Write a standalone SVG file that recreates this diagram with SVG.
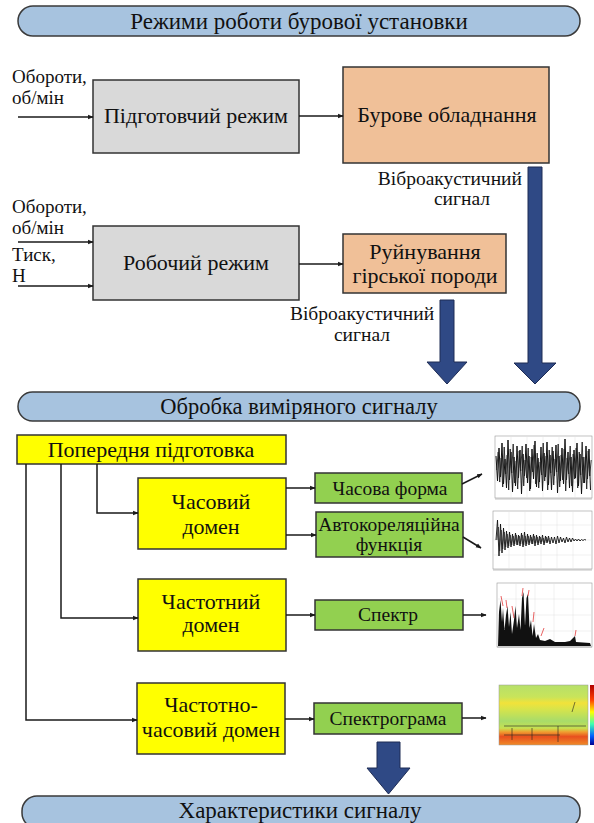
<svg xmlns="http://www.w3.org/2000/svg" width="594" height="823" viewBox="0 0 594 823" font-family="'Liberation Serif', 'DejaVu Serif', serif">
<defs>
<style>
text{font-family:"Liberation Serif","DejaVu Serif",serif;}
.t{fill:#111;}
.pill{fill:#a7c3df;stroke:#3a3a3a;stroke-width:1.5;}
.grey{fill:#d9d9d9;stroke:#333;stroke-width:1.5;}
.peach{fill:#f0c098;stroke:#333;stroke-width:1.5;}
.yel{fill:#ffff00;stroke:#333;stroke-width:1.5;}
.grn{fill:#92d050;stroke:#333;stroke-width:1.5;}
.ln{fill:none;stroke:#1a1a1a;stroke-width:1.5;marker-end:url(#ah);}
.big{fill:#2f4985;stroke:#1e2c55;stroke-width:1;}
.grid{stroke:#e2e2e2;stroke-width:0.5;fill:none;}
.ax{fill:#fff;stroke:#999;stroke-width:0.6;}
</style>
<marker id="ah" viewBox="0 0 10 10" refX="9" refY="5" markerWidth="5.5" markerHeight="5.5" orient="auto" markerUnits="userSpaceOnUse">
<path d="M0,1 L10,5 L0,9 z" fill="#1a1a1a"/>
</marker>
<linearGradient id="sg" x1="0" y1="0" x2="0" y2="1">
<stop offset="0" stop-color="#b6e06a"/>
<stop offset="0.2" stop-color="#c8e45a"/>
<stop offset="0.3" stop-color="#f2e23a"/>
<stop offset="0.4" stop-color="#d8e44a"/>
<stop offset="0.6" stop-color="#a8dc6a"/>
<stop offset="0.72" stop-color="#c6e050"/>
<stop offset="0.78" stop-color="#f0a030"/>
<stop offset="0.86" stop-color="#e8501e"/>
<stop offset="1" stop-color="#f08a28"/>
</linearGradient>
<linearGradient id="cb" x1="0" y1="0" x2="0" y2="1">
<stop offset="0" stop-color="#b00000"/>
<stop offset="0.25" stop-color="#ff4000"/>
<stop offset="0.45" stop-color="#ffff00"/>
<stop offset="0.65" stop-color="#40ffb0"/>
<stop offset="0.85" stop-color="#0060ff"/>
<stop offset="1" stop-color="#000090"/>
</linearGradient>
</defs>

<g id="pill-modes">
<rect class="pill" x="18" y="6" width="562" height="30" rx="15"/>
<text class="t" x="299" y="29" font-size="23" text-anchor="middle">Режими роботи бурової установки</text>
</g>

<g id="label-rpm1">
<text class="t" x="12" y="83" font-size="19">Обороти,</text>
<text class="t" x="12" y="104" font-size="19">об/мін</text>
</g>

<g id="node-prep">
<rect class="grey" x="93" y="80" width="206" height="73"/>
<text class="t" x="196" y="123" font-size="22" text-anchor="middle">Підготовчий режим</text>
</g>

<g id="node-drill">
<rect class="peach" x="343" y="67" width="206" height="96"/>
<text class="t" x="447" y="122" font-size="22" text-anchor="middle">Бурове обладнання</text>
</g>

<g id="label-vibro1">
<text class="t" x="522" y="185" font-size="19.5" text-anchor="end">Віброакустичний</text>
<text class="t" x="462" y="205" font-size="19.5" text-anchor="middle">сигнал</text>
</g>

<g id="label-rpm2">
<text class="t" x="12" y="213" font-size="19">Обороти,</text>
<text class="t" x="12" y="234" font-size="19">об/мін</text>
<text class="t" x="12" y="261" font-size="19">Тиск,</text>
<text class="t" x="12" y="282" font-size="19">Н</text>
</g>

<g id="node-work">
<rect class="grey" x="93" y="226" width="206" height="74"/>
<text class="t" x="196" y="270" font-size="22" text-anchor="middle">Робочий режим</text>
</g>

<g id="node-rock">
<rect class="peach" x="343" y="234" width="163" height="59"/>
<text class="t" x="425" y="259" font-size="22" text-anchor="middle">Руйнування</text>
<text class="t" x="425" y="283" font-size="22" text-anchor="middle">гірської породи</text>
</g>

<g id="label-vibro2">
<text class="t" x="362" y="320" font-size="19.5" text-anchor="middle">Віброакустичний</text>
<text class="t" x="362" y="341" font-size="19.5" text-anchor="middle">сигнал</text>
</g>

<g id="pill-processing">
<rect class="pill" x="18" y="392" width="562" height="29" rx="14.5"/>
<text class="t" x="299" y="414" font-size="22.5" text-anchor="middle">Обробка виміряного сигналу</text>
</g>

<g id="node-preproc">
<rect class="yel" x="17" y="435" width="269" height="29"/>
<text class="t" x="151" y="457" font-size="22" text-anchor="middle">Попередня підготовка</text>
</g>

<g id="node-timedomain">
<rect class="yel" x="138" y="478" width="148" height="71"/>
<text class="t" x="211" y="509" font-size="22" text-anchor="middle">Часовий</text>
<text class="t" x="211" y="534" font-size="22" text-anchor="middle">домен</text>
</g>

<g id="node-waveform">
<rect class="grn" x="315" y="473" width="147" height="30"/>
<text class="t" x="390" y="495" font-size="19.5" text-anchor="middle">Часова форма</text>
</g>

<g id="node-autocorr">
<rect class="grn" x="316" y="512" width="147" height="45"/>
<text class="t" x="389" y="531" font-size="19.5" text-anchor="middle">Автокореляційна</text>
<text class="t" x="389" y="551" font-size="19.5" text-anchor="middle">функція</text>
</g>

<g id="node-freqdomain">
<rect class="yel" x="138" y="579" width="148" height="72"/>
<text class="t" x="211" y="609" font-size="22" text-anchor="middle">Частотний</text>
<text class="t" x="211" y="632" font-size="22" text-anchor="middle">домен</text>
</g>

<g id="node-spectrum">
<rect class="grn" x="315" y="600" width="148" height="30"/>
<text class="t" x="388" y="621" font-size="19.5" text-anchor="middle">Спектр</text>
</g>

<g id="node-tfdomain">
<rect class="yel" x="137" y="683" width="148" height="71"/>
<text class="t" x="211" y="712" font-size="22" text-anchor="middle">Частотно-</text>
<text class="t" x="211" y="737" font-size="22" text-anchor="middle">часовий домен</text>
</g>

<g id="node-spectrogram">
<rect class="grn" x="314" y="703" width="148" height="31"/>
<text class="t" x="388" y="725" font-size="19.5" text-anchor="middle">Спектрограма</text>
</g>

<g id="pill-characteristics">
<rect class="pill" x="22" y="796" width="558" height="32" rx="15"/>
<text class="t" x="300" y="818" font-size="23" text-anchor="middle">Характеристики сигналу</text>
</g>

<g id="plot-waveform">
<rect class="ax" x="495" y="436" width="97" height="62"/>
<path class="grid" d="M511,436V498M527,436V498M543,436V498M559,436V498M575,436V498M495,451H592M495,467H592M495,482H592"/>
<polyline fill="none" stroke="#111" stroke-width="1" points="496,456 497.5,481 499,448 500.5,477 502,443 503.5,484 505,459 506.5,488 508,440 509.5,480 511,452 512.5,492 514,457 515.5,486 517,446 518.5,478 520,450 521.5,494 523,454 524.5,476 526,444 527.5,483 529,456 530.5,489 532,449 533.5,479 535,441 536.5,487 538,458 539.5,482 541,447 542.5,491 544,453 545.5,477 547,442 548.5,485 550,455 551.5,490 553,451 554.5,476 556,445 557.5,493 559,456 560.5,481 562,448 563.5,484 565,439 566.5,480 568,452 569.5,488 571,457 572.5,492 574,450 575.5,478 577,443 578.5,486 580,454 581.5,494 583,457 584.5,483 586,446 587.5,479 589,449 590.5,490"/>
<polyline fill="none" stroke="#222" stroke-width="0.9" points="496.7,470 498.2,452 499.7,482 501.2,458 502.7,487 504.2,447 505.7,474 507.2,455 508.7,490 510.2,449 511.7,473 513.2,444 514.7,483 516.2,461 517.7,489 519.2,451 520.7,471 522.2,446 523.7,486 525.2,460 526.7,478 528.2,448 529.7,491 531.2,457 532.7,472 534.2,445 535.7,484 537.2,453 538.7,488 540.2,462 541.7,475 543.2,443 544.7,481 546.2,456 547.7,490 549.2,450 550.7,473 552.2,447 553.7,485 555.2,459 556.7,472 558.2,444 559.7,487 561.2,455 562.7,480 564.2,449 565.7,491 567.2,458 568.7,474 570.2,446 571.7,486 573.2,454 574.7,479 576.2,448 577.7,488 579.2,452 580.7,475 582.2,442 583.7,483 585.2,457 586.7,489 588.2,451 589.7,476 591.2,460"/>
<path d="M495,499H592" stroke="#999" stroke-width="0.6"/>
</g>

<g id="plot-autocorr">
<rect class="ax" x="493" y="511" width="99" height="58"/>
<path class="grid" d="M509,511V569M525,511V569M541,511V569M557,511V569M573,511V569M493,525H592M493,540H592M493,555H592"/>
<polyline fill="none" stroke="#111" stroke-width="0.9" points="496,540 497.5,520 499,556 500.5,524 502,553 503.5,528 505,550 506.5,531 508,548 509.5,532 511,547 512.5,534 514,546 515.5,533 517,545 518.5,535 520,546 521.5,533 523,547 524.5,532 526,546 527.5,534 529,545 530.5,535 532,544 533.5,534 535,546 536.5,535 538,545 539.5,536 541,544 542.5,535 544,545 545.5,536 547,543 548.5,536 550,544 551.5,537 553,543 554.5,537 556,544 557.5,536 559,543 560.5,537 562,542 563.5,538 565,543 566.5,537 568,542 569.5,538 571,542 572.5,538 574,541 575.5,539 577,541 578.5,539 580,541 581.5,539.5 583,540.5 584.5,539.5 586,540"/>
<polyline fill="none" stroke="#222" stroke-width="0.7" points="497,540 498.3,527 499.7,551 501.2,530 502.7,549 504.2,532 505.7,547 507.2,534 508.7,546 510.2,535 511.7,545 513.2,536 514.7,544 516.2,535 517.7,545 519.2,536 520.7,544 522.2,535 523.7,545 525.2,536 526.7,544 528.2,536 529.7,543 531.2,537 532.7,544 534.2,536 535.7,543 537.2,537 538.7,543 540.2,537 541.7,542 543.2,538 544.7,543 546.2,537 547.7,542 549.2,538"/>
<path d="M493,570H592" stroke="#999" stroke-width="0.6"/>
</g>

<g id="plot-spectrum">
<rect class="ax" x="497" y="583" width="95" height="64"/>
<path class="grid" d="M516,583V647M535,583V647M554,583V647M573,583V647M497,599H592M497,615H592M497,631H592"/>
<path fill="#111" d="M498,646 L499,612 L500.5,600 L502,622 L503,608 L504.5,630 L506,615 L507.5,606 L509,627 L510.5,612 L512,634 L514,620 L515.5,606 L517,628 L519,614 L520.5,630 L522,598 L523.5,592 L525,626 L526.5,598 L528,594 L529.5,628 L531,620 L532.5,636 L534,624 L536,638 L538,634 L540,640 L545,641 L550,639 L555,642 L565,642 L570,641 L575,636 L576,642 L590,643 L591,646 Z"/>
<path d="M501,596L503,606M506,600L507,608M512,606L514,618M523,588L522,596M529,590L528,596M534,612L533,622M544,628L541,636M576,630L575,636" stroke="#e02020" stroke-width="0.7" fill="none"/>
<path d="M497,647H592" stroke="#999" stroke-width="0.6"/>
</g>

<g id="plot-spectrogram">
<rect x="499" y="685" width="89" height="60" fill="url(#sg)" stroke="#999" stroke-width="0.5"/>
<path d="M504,726H586M504,735H560M512,728V740M532,728V740M558,726V742M575,702L572,712" stroke="#222" stroke-width="0.6" fill="none"/>
<rect x="590" y="685" width="4" height="60" fill="url(#cb)"/>
</g>

<g id="connectors">
<line class="ln" x1="18" y1="117" x2="93" y2="117"/>
<line class="ln" x1="299" y1="116" x2="343" y2="116"/>
<line class="ln" x1="18" y1="242" x2="93" y2="242"/>
<line class="ln" x1="18" y1="286" x2="93" y2="286"/>
<line class="ln" x1="299" y1="264" x2="343" y2="264"/>
<path class="big" d="M528,167 H542 V363 H556 L535,384 L514,363 H528 Z"/>
<path class="big" d="M440,300 H454 V362 H467 L447,384 L427,362 H440 Z"/>
<polyline class="ln" points="97,464 97,513 138,513"/>
<polyline class="ln" points="61,464 61,618 138,618"/>
<polyline class="ln" points="26,464 26,720 137,720"/>
<line class="ln" x1="286" y1="488" x2="315" y2="488"/>
<line class="ln" x1="286" y1="535" x2="316" y2="535"/>
<line class="ln" x1="286" y1="615" x2="315" y2="615"/>
<line class="ln" x1="285" y1="719" x2="314" y2="719"/>
<line class="ln" x1="462" y1="484" x2="482" y2="474"/>
<line class="ln" x1="463" y1="537" x2="481" y2="548"/>
<line class="ln" x1="463" y1="615" x2="486" y2="615"/>
<line class="ln" x1="462" y1="718" x2="486" y2="718"/>
<path class="big" d="M377,742 H400 V768 H410 L388.5,794 L367,768 H377 Z"/>
</g>
</svg>
